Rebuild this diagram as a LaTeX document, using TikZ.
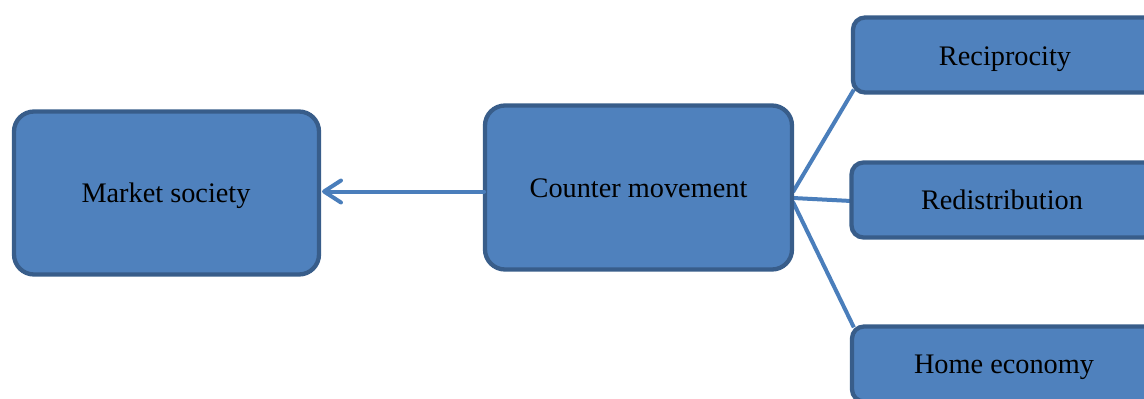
\documentclass[tikz,border=0pt]{standalone}
\usepackage{fontspec}
\setmainfont{Liberation Serif}
\usetikzlibrary{arrows.meta,backgrounds}
\definecolor{boxfill}{HTML}{4F81BD}
\definecolor{boxline}{HTML}{385D8A}
\definecolor{linkline}{HTML}{4A7EBB}
\begin{document}
\begin{tikzpicture}[x=1pt,y=-1pt,
  bigbox/.style={draw=boxline, fill=boxfill, line width=4.3pt, rounded corners=20pt,
    minimum width=305pt, minimum height=163pt, inner sep=0pt},
  smallbox/.style={draw=boxline, fill=boxfill, line width=4.3pt, rounded corners=12pt,
    minimum width=304pt, minimum height=75pt, inner sep=0pt},
  label/.style={font=\fontsize{28.3}{33}\selectfont, text=black, inner sep=0pt, anchor=base},
  link/.style={draw=linkline, line width=4pt},
  arrowlink/.style={link, line cap=round, -{Straight Barb[length=17pt,width=22pt,line width=4pt,round]}}]
  \useasboundingbox (0,0) rectangle (1144,399);
  \clip (0,0) rectangle (1144,399);

  % main boxes
  \node[bigbox] (ms) at (166.5,193) {};
  \node[label] (mst) at (166,202.7) {Market society};
  \node[bigbox, minimum width=307pt, minimum height=164pt] (cm) at (638.5,187.5) {};
  \node[label] (cmt) at (638.5,197.3) {Counter movement};

  % branch boxes (running off the right edge)
  \node[smallbox] (rec) at (1005,55) {};
  \node[label] (rect) at (1005,65) {Reciprocity};
  \node[smallbox] (red) at (1003.5,200) {};
  \node[label] (redt) at (1002,209.3) {Redistribution};
  \node[smallbox] (home) at (1004,364) {};
  \node[label] (homet) at (1004,373.3) {Home economy};

  % connectors, kept behind the boxes
  \coordinate (cmA) at (793,192);
  \coordinate (cmB) at (793,198);
  \coordinate (cmC) at (793,202);
  \coordinate (cmD) at (484,191.5);
  \coordinate (msE) at (322,191.5);

  \begin{scope}[on background layer]
    \draw[link] (cmA) -- ([xshift=3pt,yshift=5pt]rec.south west);
    \draw[link] (cmB) -- ([xshift=2pt,yshift=-1pt]red.west);
    \draw[link] (cmC) -- ([xshift=4pt,yshift=-3pt]home.north west);
  \end{scope}
  \draw[arrowlink] (cmD) -- (msE);
\end{tikzpicture}
\end{document}
